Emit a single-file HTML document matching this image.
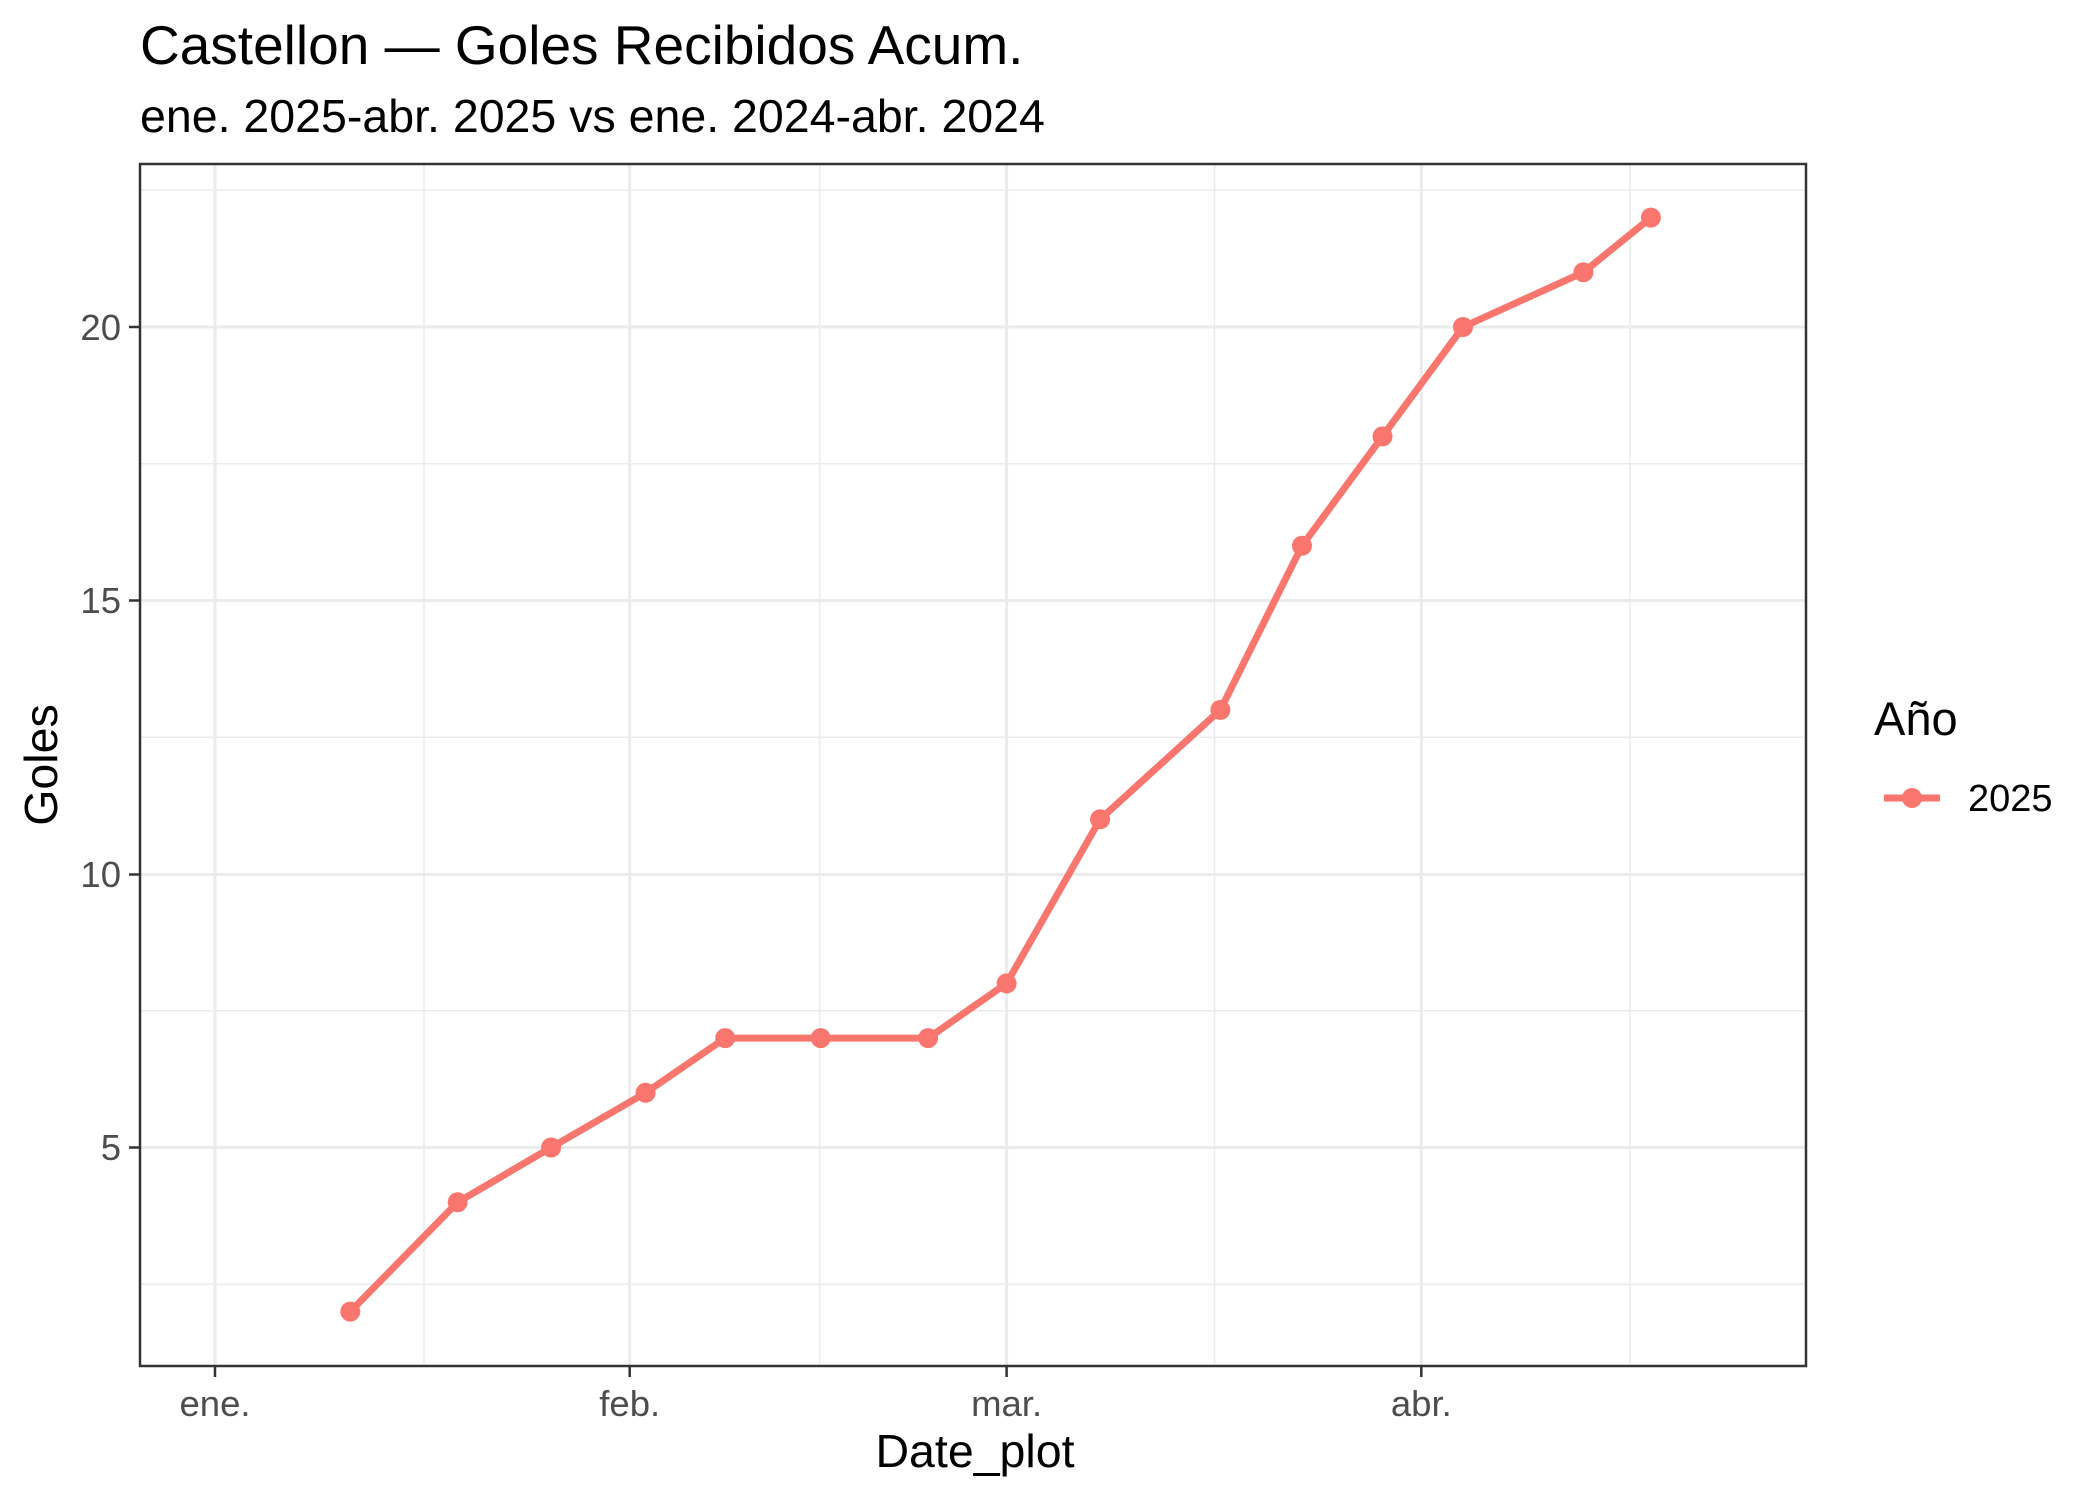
<!DOCTYPE html>
<html><head><meta charset="utf-8"><style>html,body{margin:0;padding:0;background:#fff}</style></head>
<body>
<svg width="2100" height="1500" viewBox="0 0 2100 1500" xmlns="http://www.w3.org/2000/svg" font-family="Liberation Sans, Arial, sans-serif">
<rect width="2100" height="1500" fill="#fff"/>
<text x="140" y="64" font-size="55" fill="#000">Castellon — Goles Recibidos Acum.</text>
<text x="140" y="132" font-size="46.5" fill="#000">ene. 2025-abr. 2025 vs ene. 2024-abr. 2024</text>
<g stroke="#EBEBEB" stroke-width="1.5">
<line x1="140" x2="1806" y1="1284.3" y2="1284.3"/>
<line x1="140" x2="1806" y1="1010.8" y2="1010.8"/>
<line x1="140" x2="1806" y1="737.3" y2="737.3"/>
<line x1="140" x2="1806" y1="463.8" y2="463.8"/>
<line x1="140" x2="1806" y1="190.3" y2="190.3"/>
<line y1="164" y2="1366" x1="424" x2="424"/>
<line y1="164" y2="1366" x1="819.7" x2="819.7"/>
<line y1="164" y2="1366" x1="1214.5" x2="1214.5"/>
<line y1="164" y2="1366" x1="1630" x2="1630"/>
</g>
<g stroke="#EBEBEB" stroke-width="3">
<line x1="140" x2="1806" y1="1147.5" y2="1147.5"/>
<line x1="140" x2="1806" y1="874.5" y2="874.5"/>
<line x1="140" x2="1806" y1="600.5" y2="600.5"/>
<line x1="140" x2="1806" y1="327" y2="327"/>
<line y1="164" y2="1366" x1="215" x2="215"/>
<line y1="164" y2="1366" x1="629.7" x2="629.7"/>
<line y1="164" y2="1366" x1="1006.6" x2="1006.6"/>
<line y1="164" y2="1366" x1="1421.3" x2="1421.3"/>
</g>
<polyline fill="none" stroke="#F8766D" stroke-width="7" stroke-linejoin="round" points="350.3,1311.6 457.7,1202.2 551.1,1147.5 645.6,1092.8 725.2,1038.1 820.7,1038.1 928.1,1038.1 1006.6,983.4 1100.1,819.3 1220.4,709.9 1302,545.8 1382.5,436.4 1463,327 1583.4,272.3 1650.9,217.6"/>
<g fill="#F8766D">
<circle cx="350.3" cy="1311.6" r="10"/><circle cx="457.7" cy="1202.2" r="10"/><circle cx="551.1" cy="1147.5" r="10"/><circle cx="645.6" cy="1092.8" r="10"/><circle cx="725.2" cy="1038.1" r="10"/><circle cx="820.7" cy="1038.1" r="10"/><circle cx="928.1" cy="1038.1" r="10"/><circle cx="1006.6" cy="983.4" r="10"/><circle cx="1100.1" cy="819.3" r="10"/><circle cx="1220.4" cy="709.9" r="10"/><circle cx="1302" cy="545.8" r="10"/><circle cx="1382.5" cy="436.4" r="10"/><circle cx="1463" cy="327" r="10"/><circle cx="1583.4" cy="272.3" r="10"/><circle cx="1650.9" cy="217.6" r="10"/>
</g>
<rect x="140" y="164" width="1666" height="1202" fill="none" stroke="#333" stroke-width="2.5"/>
<g stroke="#333" stroke-width="2.5">
<line x1="129" x2="140" y1="1147.5" y2="1147.5"/><line x1="129" x2="140" y1="874.5" y2="874.5"/><line x1="129" x2="140" y1="600.5" y2="600.5"/><line x1="129" x2="140" y1="327" y2="327"/>
<line y1="1366" y2="1377" x1="215" x2="215"/><line y1="1366" y2="1377" x1="629.7" x2="629.7"/><line y1="1366" y2="1377" x1="1006.6" x2="1006.6"/><line y1="1366" y2="1377" x1="1421.3" x2="1421.3"/>
</g>
<g font-size="36.5" fill="#4D4D4D" text-anchor="end">
<text x="121" y="1160">5</text><text x="121" y="887">10</text><text x="121" y="613">15</text><text x="121" y="340">20</text>
</g>
<g font-size="36.5" fill="#4D4D4D" text-anchor="middle">
<text x="215" y="1416">ene.</text><text x="629.7" y="1416">feb.</text><text x="1006.6" y="1416">mar.</text><text x="1421.3" y="1416">abr.</text>
</g>
<text x="975" y="1467" font-size="46.5" text-anchor="middle" fill="#000">Date_plot</text>
<text transform="translate(57,765) rotate(-90)" font-size="46.5" text-anchor="middle" fill="#000">Goles</text>
<text x="1874" y="735" font-size="47" fill="#000">Año</text>
<line x1="1884" x2="1940" y1="798" y2="798" stroke="#F8766D" stroke-width="7"/>
<circle cx="1912" cy="798" r="10" fill="#F8766D"/>
<text x="1968" y="811" font-size="38" fill="#000">2025</text>
</svg>
</body></html>
